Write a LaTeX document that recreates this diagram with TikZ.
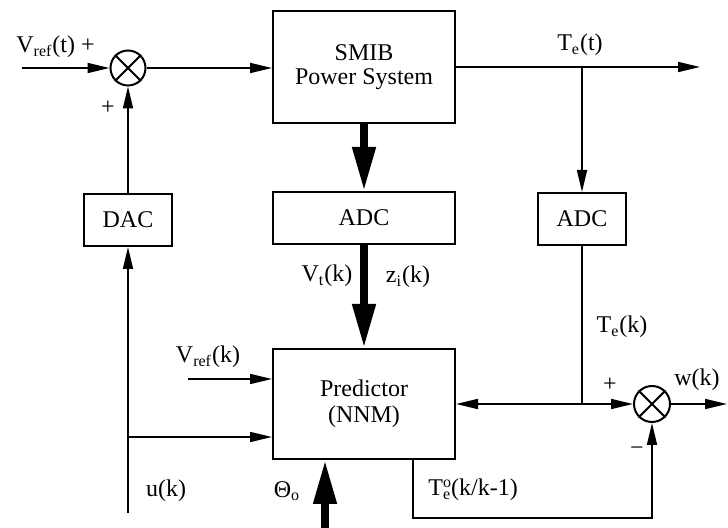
\documentclass[tikz,border=0pt]{standalone}
\usepackage{fontspec}
\setmainfont{Liberation Serif}
\usetikzlibrary{arrows.meta,positioning,calc}
\tikzset{
  blk/.style={draw,line width=1pt,minimum width=91pt,minimum height=26pt,
              font=\fontsize{12}{13}\selectfont,align=center,inner sep=0pt},
  blksmall/.style={blk,minimum width=44pt},
  sumnode/.style={circle,draw,line width=1pt,minimum size=17.5pt,inner sep=0pt},
  arr/.style={-{Triangle[length=11pt,width=5pt]},line width=0.85pt},
  arrthick/.style={-{Triangle[length=22pt,width=11pt]},line width=3.8pt},
  lbl/.style={font=\fontsize{12}{13}\selectfont,inner sep=1pt},
}

\begin{document}
\begin{tikzpicture}[x=0.5pt,y=-0.5pt]
  \useasboundingbox (0,0) rectangle (728,528);
  % Summing junction and plant
  \node[sumnode](sumv) at (128,68){};
  \draw[line width=1pt](sumv.45)--(sumv.225) (sumv.135)--(sumv.-45);
  \node[blk,minimum height=56pt,font=\fontsize{12}{12}\selectfont](smib) at (364,67){SMIB\\Power System};
  % Converters
  \node[blk](adcv) at (364,218){ADC};
  \node[blksmall](adct) at (582,219){ADC};
  \node[blksmall](dac) at (128,220){DAC};
  % Predictor
  \node[blk,minimum height=55pt](pred) at (364,404){Predictor\\(NNM)};
  % Error junction
  \node[sumnode,minimum size=18pt](sumw) at (652,404){};
  \draw[line width=1pt](sumw.45)--(sumw.225) (sumw.135)--(sumw.-45);

  % Free ends
  \coordinate(vin) at (22,68);
  \coordinate(teout) at (700,67);
  \coordinate(jn) at (582,404);
  \coordinate(ubot) at (128,513);
  \coordinate(ubr) at (128,437);
  \coordinate(vrk) at (188,379);
  \coordinate(thbot) at (325,528);
  \coordinate(fb) at (413,518);
  \coordinate(wout) at (727,404);

  % Arrows
  \draw[arr](vin)--(sumv.west);
  \draw[arr](sumv.east)--(sumv.east-|smib.west);
  \draw[arr](smib.east)--(teout);
  \draw[arr](smib.east-|adct.north)--(adct.north);
  \draw[arrthick](smib.south)--(adcv.north);
  \draw[arrthick](adcv.south)--(pred.north);
  \draw[arr](dac.north)--(sumv.south);
  \draw[arr](ubot)--(dac.south);
  \draw[arr](ubr)--(ubr-|pred.west);
  \draw[arr](vrk)--(vrk-|pred.west);
  \draw[arrthick](thbot)--(thbot|-pred.south);
  \draw[line width=0.85pt](adct.south)--(jn);
  \draw[arr](jn)--(pred.east);
  \draw[arr](jn)--(sumw.west);
  \draw[arr](sumw.east)--(wout);
  \draw[arr](fb|-pred.south)--(fb)-|(sumw.south);

  % Labels
  \node[lbl,anchor=west](lvreft) at (14,47){V\textsubscript{ref}(t) +};
  \node[lbl](lpv) at (108,108){+};
  \node[lbl](lte) at (580,45){T\textsubscript{e}(t)};
  \node[lbl](lvt) at (327,276){V\textsubscript{t}(k)};
  \node[lbl](lzi) at (408,277){z\textsubscript{i}(k)};
  \node[lbl](lvrefk) at (208,357){V\textsubscript{ref}(k)};
  \node[lbl](lu) at (166,491){u(k)};
  \node[lbl](lth) at (287,491){Θ\textsubscript{o}};
  \node[lbl,anchor=west](ltp) at (426,490){T\rlap{\textsuperscript{o}}\textsubscript{e}(k/k-1)};
  \node[lbl](ltek) at (622,327){T\textsubscript{e}(k)};
  \node[lbl](lpw) at (610,385){+};
  \node[lbl](lw) at (697,380){w(k)};
  \node[lbl](lmw) at (637,451){−};
\end{tikzpicture}
\end{document}
